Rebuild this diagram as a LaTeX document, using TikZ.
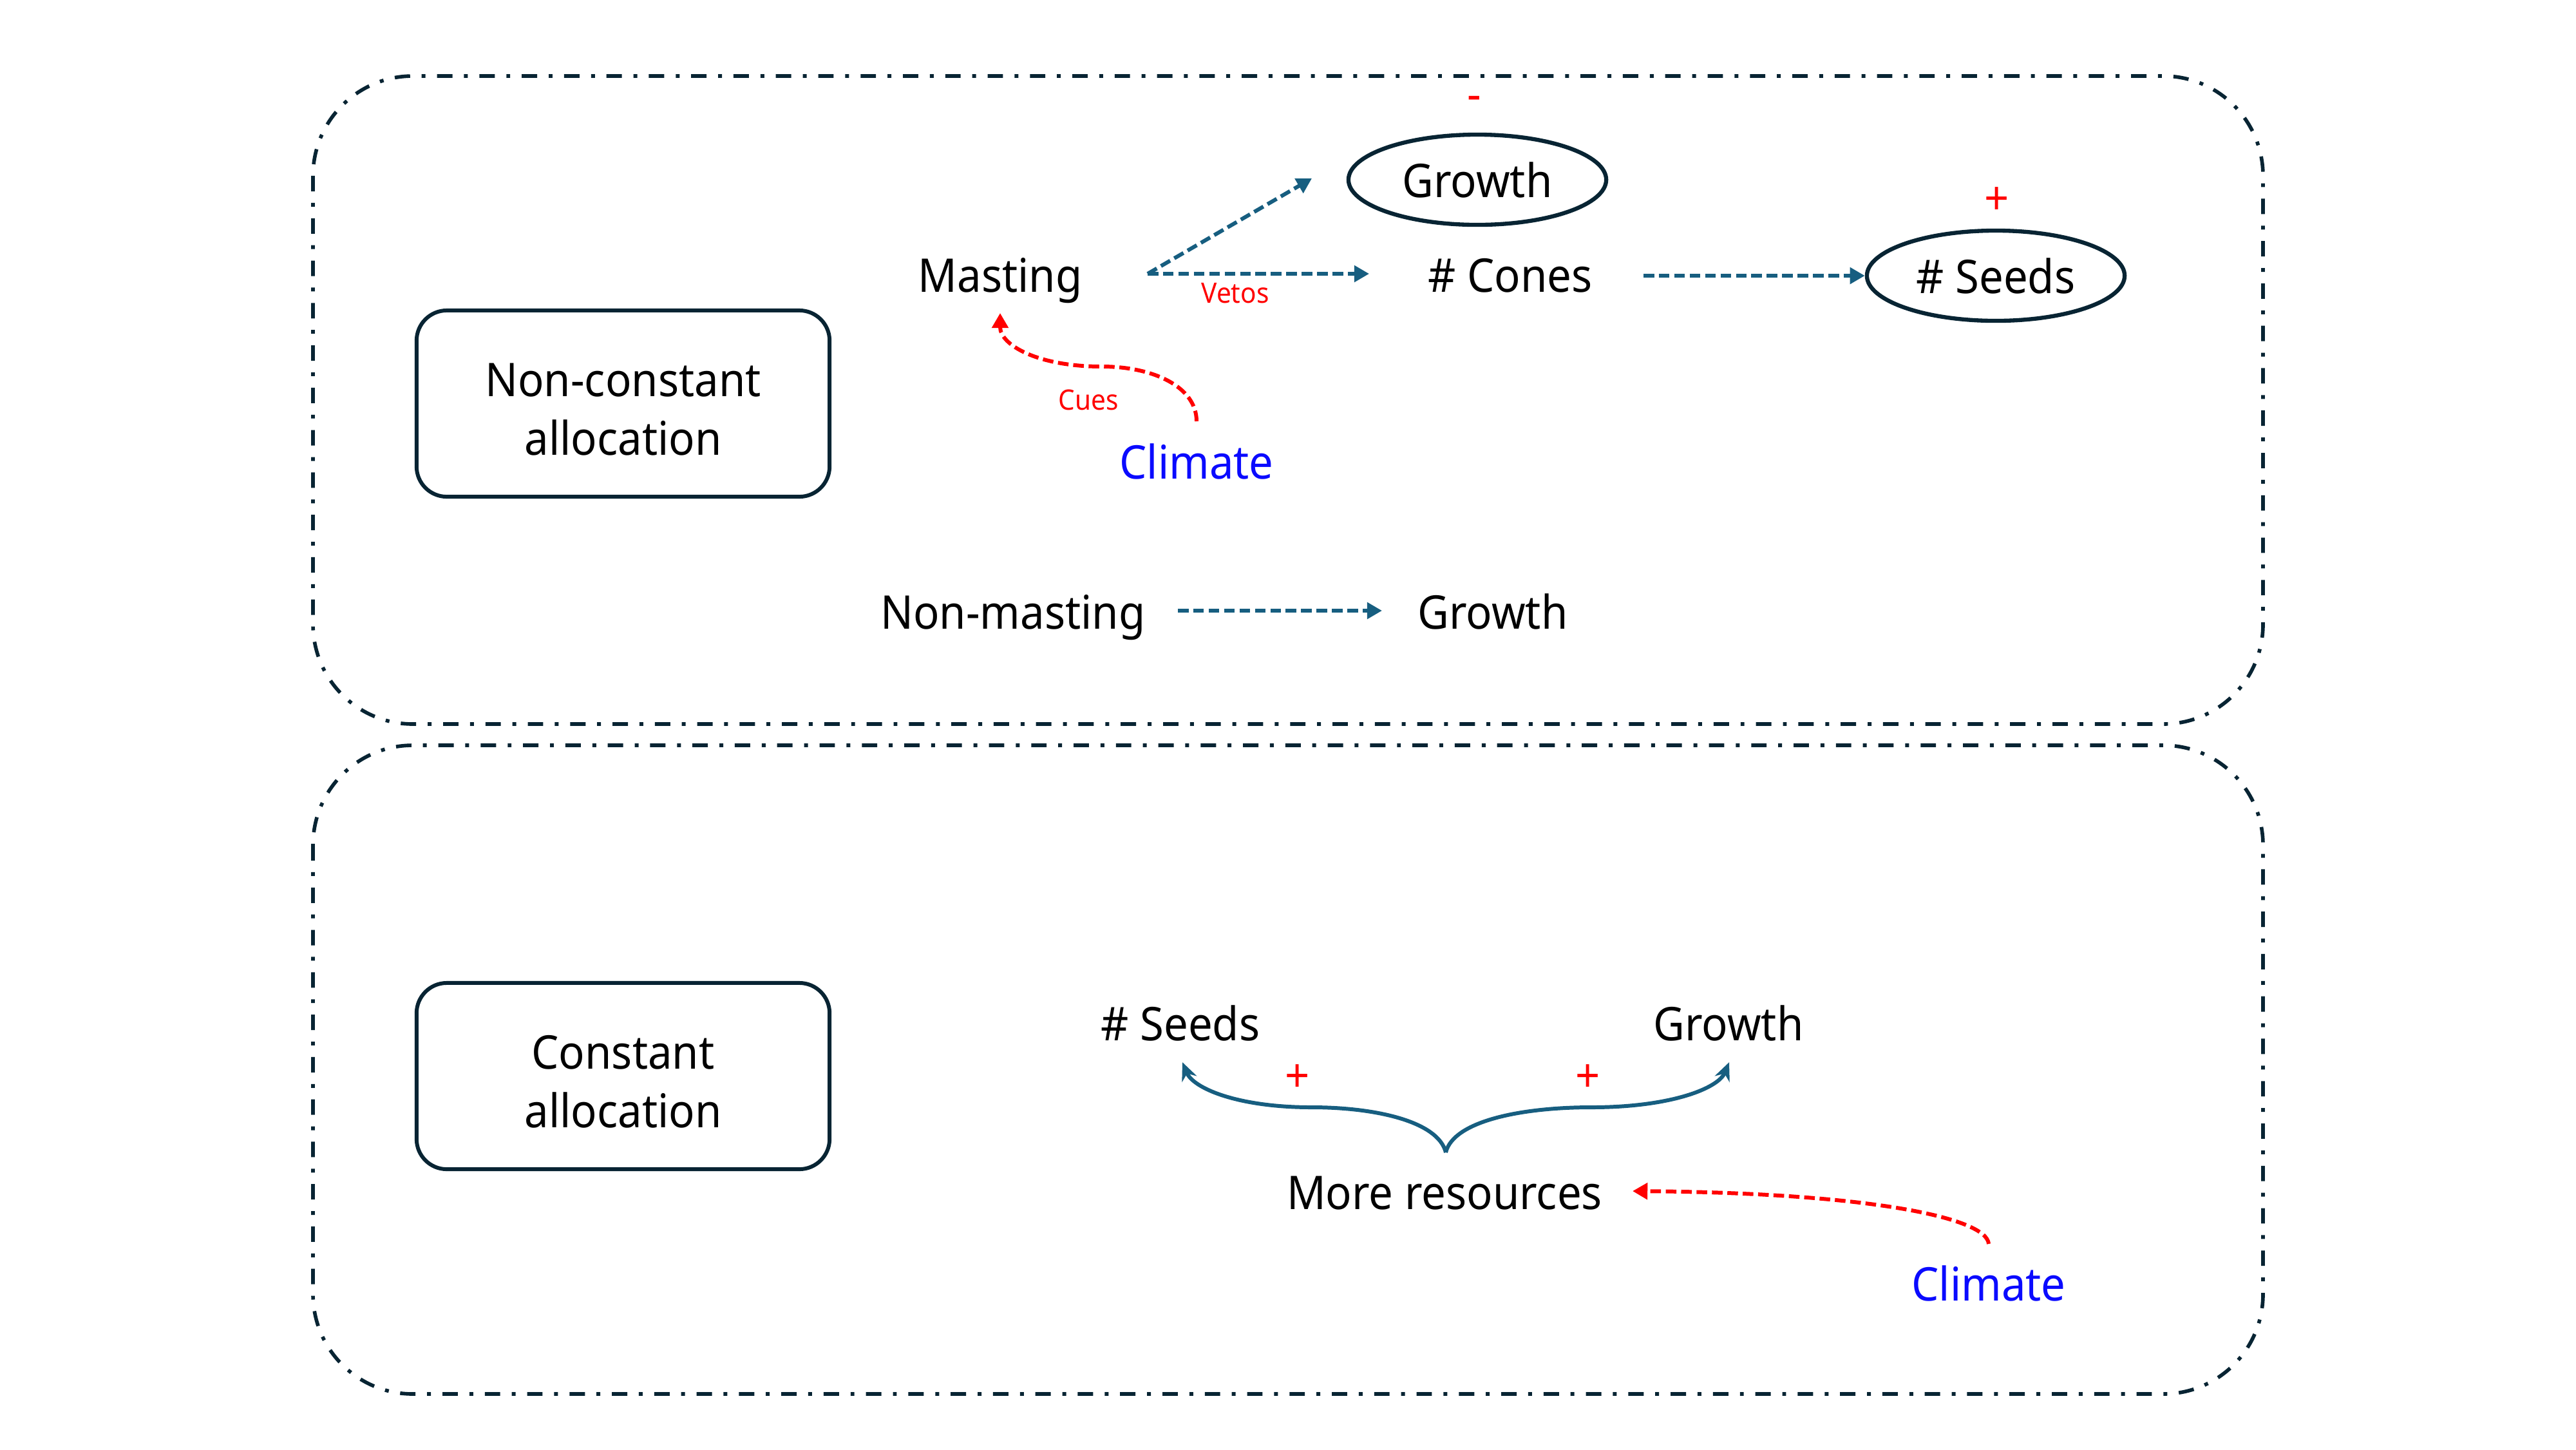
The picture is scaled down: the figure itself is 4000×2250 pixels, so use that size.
\documentclass[tikz,border=0pt]{standalone}
\usepackage{fontspec}
\setmainfont{Noto Sans}[FakeStretch=0.93]
\usetikzlibrary{arrows.meta,shapes.geometric}
\definecolor{navy}{RGB}{8,36,51}
\definecolor{tealb}{RGB}{23,94,128}
\definecolor{climblue}{RGB}{10,10,255}
\tikzset{
  outerbox/.style={draw=navy, line width=1.6pt, rounded corners=1.55cm,
    dash pattern=on 6.8pt off 5.1pt on 1.7pt off 5.1pt},
  catbox/.style={draw=navy, line width=1.7pt, rounded corners=0.47cm,
    minimum width=6.41cm, minimum height=2.89cm, align=center, inner sep=0pt,
    text height=45.5pt, text depth=0pt},
  oval/.style={ellipse, draw=navy, line width=1.8pt, minimum width=4cm,
    minimum height=1.4cm, inner sep=0pt},
  lbl/.style={anchor=base, inner sep=0pt},
  smalllbl/.style={anchor=base, inner sep=0pt, text=red, font=\fontsize{12.4}{14}\selectfont},
  signlbl/.style={anchor=base, inner sep=0pt, text=red},
  flow/.style={draw=tealb, line width=1.7pt, dash pattern=on 4.7pt off 2.1pt,
    -{Triangle[length=6.6pt,width=7.1pt]}},
  cue/.style={draw=red, line width=1.7pt, dash pattern=on 4.7pt off 2.1pt,
    -{Triangle[length=6.6pt,width=7.1pt]}},
  bracearrow/.style={draw=tealb, line width=1.7pt, -{Stealth[length=8pt,width=7pt]}}
}
\begin{document}
\begin{tikzpicture}[x=0.01cm, y=-0.01cm, font=\fontsize{20.5}{25.9}\selectfont]
\path[use as bounding box] (0,0) rectangle (4000,2250);

% outer containers
\draw[outerbox] (486,118) rectangle (3514,1124);
\draw[outerbox] (486,1157) rectangle (3514,2164);

% category boxes
\node[catbox] (nca) at (967.5,626.5) {Non-constant\\allocation};
\node[catbox] (ca) at (967.5,1670.5) {Constant\\allocation};

% ---- top panel ----
\node[lbl] (masting) at (1553,453) {Masting};
\node[lbl] (cones) at (2345,453) {\# Cones};
\node[oval] (gE) at (2294,279) {Growth};
\node[oval] (sE) at (3099,428) {\# Seeds};
\node[signlbl] (minus) at (2289,171) {-};
\node[signlbl] (plus1) at (3101,333) {+};
\node[smalllbl] (vetos) at (1918,470) {Vetos};
\node[smalllbl] (cues) at (1690,636) {Cues};
\node[lbl, text=climblue] (clim1) at (1858,743) {Climate};
\node[lbl] (nonmast) at (1573,976) {Non-masting};
\node[lbl] (growth2) at (2318,976) {Growth};

\coordinate (mfork) at (1782,425);
\coordinate (gEin) at (2037,277);
\coordinate (conesin) at (2126,425);
\coordinate (conesout) at (2552,428);
\coordinate (c1start) at (1858,654);
\coordinate (c1mid) at (1711,569);
\coordinate (mastin) at (1553,486);
\coordinate (nmout) at (1829,948);
\coordinate (g2in) at (2146,948);

\draw[flow] (mfork) -- (gEin);
\draw[flow] (mfork) -- (conesin);
\draw[flow] (conesout) -- (sE.west);
\draw[flow] (nmout) -- (g2in);
\draw[cue] (c1start) .. controls (1858,600) and (1790,569) .. (c1mid)
  .. controls (1610,569) and (1553,535) .. (mastin);

% ---- bottom panel ----
\node[lbl] (seeds2) at (1833,1615) {\# Seeds};
\node[lbl] (growth3) at (2684,1615) {Growth};
\node[lbl] (more) at (2243,1877) {More resources};
\node[lbl, text=climblue] (clim2) at (3088,2019) {Climate};
\node[signlbl] (plus2) at (2015,1695) {+};
\node[signlbl] (plus3) at (2466,1695) {+};

\coordinate (bcusp) at (2245,1789);
\coordinate (bl) at (2037,1719);
\coordinate (br) at (2471,1719);
\coordinate (seedsin) at (1836,1649);
\coordinate (growthin) at (2685,1649);
\coordinate (c2start) at (3088,1931);
\coordinate (morein) at (2535,1849);

\draw[bracearrow] (bcusp) .. controls (2233,1740) and (2133,1719) .. (bl)
  .. controls (1923,1719) and (1853,1690) .. (seedsin);
\draw[bracearrow] (bcusp) .. controls (2257,1740) and (2363,1719) .. (br)
  .. controls (2593,1719) and (2668,1690) .. (growthin);
\draw[cue] (c2start) .. controls (3085,1890) and (2900,1852) .. (morein);
\end{tikzpicture}
\end{document}
